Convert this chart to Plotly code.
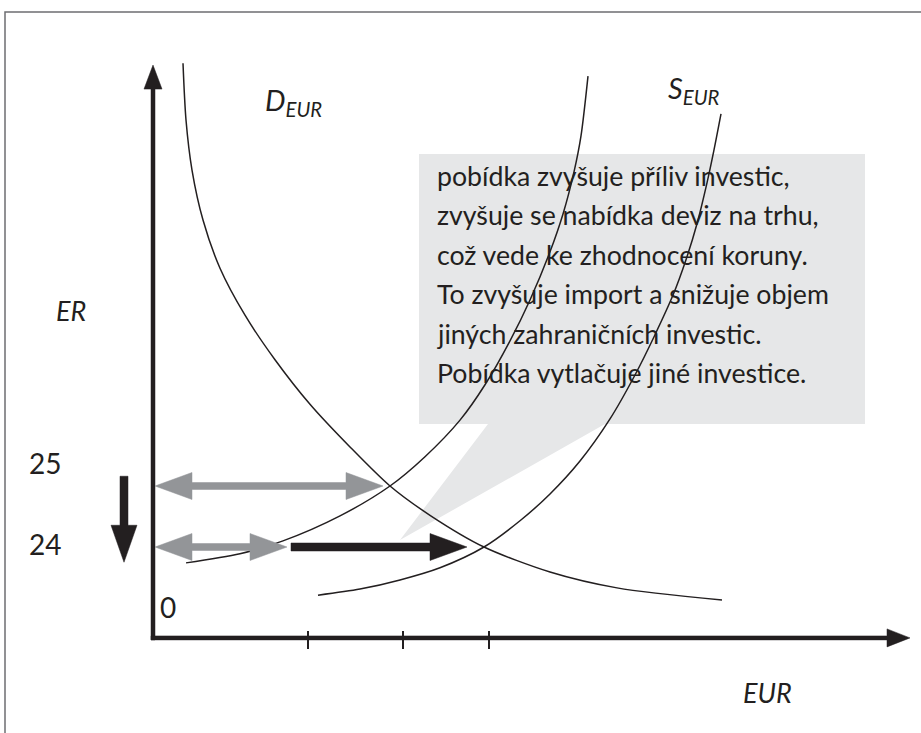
import plotly.graph_objects as go

W, H = 921, 733

# ---------------- data (EUR quantity in arbitrary units, ER in CZK/EUR) ----------------
demand_q = [3.0, 3.3, 3.9, 5.0, 6.7, 9.2, 12.2, 15.7, 19.7, 23.7, 27.7, 33.1, 39.7, 46.4, 56.9]
demand_er = [31.93, 31.00, 30.18, 29.36, 28.57, 27.80, 27.07, 26.34, 25.64, 25.00, 24.52, 24.00, 23.59, 23.33, 23.13]

supply1_q = [3.3, 8.7, 13.0, 18.7, 23.7, 27.2, 30.7, 33.2, 35.7, 37.7, 39.7, 41.0, 42.1, 42.8, 43.5]
supply1_er = [23.74, 23.89, 24.10, 24.51, 25.00, 25.48, 26.08, 26.66, 27.38, 28.05, 28.84, 29.46, 30.15, 30.74, 31.72]

supply2_q = [16.5, 20.7, 24.7, 28.7, 33.1, 36.7, 39.7, 42.7, 45.7, 48.2, 50.2, 52.0, 53.3, 54.4, 55.4, 56.1, 56.8]
supply2_er = [23.21, 23.31, 23.46, 23.66, 24.00, 24.43, 24.87, 25.41, 26.10, 26.82, 27.48, 28.13, 28.71, 29.30,
              29.97, 30.51, 31.10]

er_levels = [25, 24]
er_tick_labels = ["25", "24"]
eur_ticks = [15.5, 25.0, 33.6]

# arrows: (from q, to q) at a given ER level
gray_arrow_er25 = [0.2, 23.0]
gray_arrow_er24 = [0.2, 13.4]
black_arrow_er24 = [13.8, 31.4]
er_drop = [25.16, 23.75]      # ER change indicator (from, to)
er_drop_q = -2.9

axis_origin = [0.0, 22.51]    # q, ER at the drawn origin
axis_top_er = 31.90
axis_right_q = 75.7

callout_lines = [
    "pobídka zvyšuje příliv investic,",
    "zvyšuje se nabídka deviz na trhu,",
    "což vede ke zhodnocení koruny.",
    "To zvyšuje import a snižuje objem",
    "jiných zahraničních investic.",
    "Pobídka vytlačuje jiné investice.",
]

# ---------------- layout / style ----------------
X_RANGE = [-15.3, 76.8]
Y_RANGE = [20.951, 32.967]
KX = W / (X_RANGE[1] - X_RANGE[0])
KY = H / (Y_RANGE[1] - Y_RANGE[0])

INK = "#231f20"
GRAY = "#939598"
CALLOUT = "#e6e7e8"
FONT = "Lato"


def to_px(q, er):
    return ((q - X_RANGE[0]) * KX, (Y_RANGE[1] - er) * KY)


def to_data(px, py):
    return (px / KX + X_RANGE[0], Y_RANGE[1] - py / KY)


def arrow_polygon(q0, e0, q1, e1, shaft, head_len, head_half, start_head=False):
    x0, y0 = to_px(q0, e0)
    x1, y1 = to_px(q1, e1)
    dx, dy = x1 - x0, y1 - y0
    L = (dx * dx + dy * dy) ** 0.5
    ux, uy = dx / L, dy / L
    nx, ny = -uy, ux
    t = shaft / 2.0

    def P(b, s):
        return (b[0] + nx * s, b[1] + ny * s)

    eb = (x1 - ux * head_len, y1 - uy * head_len)
    sb = (x0 + ux * head_len, y0 + uy * head_len) if start_head else (x0, y0)
    pts = [P(sb, t), P(eb, t), P(eb, head_half), (x1, y1), P(eb, -head_half), P(eb, -t), P(sb, -t)]
    if start_head:
        pts += [P(sb, -head_half), (x0, y0), P(sb, head_half)]
    pts.append(pts[0])
    xs, ys = zip(*[to_data(*p) for p in pts])
    return list(xs), list(ys)


fig = go.Figure()


def add_poly(xs, ys, color):
    fig.add_trace(go.Scatter(x=xs, y=ys, mode="lines", fill="toself", fillcolor=color,
                             line=dict(color=color, width=0.5), hoverinfo="skip", showlegend=False))


# curves
for qs, ers in [(demand_q, demand_er), (supply1_q, supply1_er), (supply2_q, supply2_er)]:
    fig.add_trace(go.Scatter(x=qs, y=ers, mode="lines",
                             line=dict(color=INK, width=1.5, shape="spline", smoothing=0.8),
                             hoverinfo="skip", showlegend=False))

# axes (with arrowheads)
half_ax_q = 2.0 / KX
half_ax_e = 2.0 / KY
xs, ys = arrow_polygon(axis_origin[0], axis_origin[1] - half_ax_e, axis_origin[0], axis_top_er, 4, 24, 9)
add_poly(xs, ys, INK)
xs, ys = arrow_polygon(axis_origin[0] - half_ax_q, axis_origin[1], axis_right_q, axis_origin[1], 4, 23, 9)
add_poly(xs, ys, INK)

# x-axis ticks
tx, ty = [], []
for q in eur_ticks:
    tx += [q, q, None]
    ty += [axis_origin[1] + 7 / KY, axis_origin[1] - 11 / KY, None]
fig.add_trace(go.Scatter(x=tx, y=ty, mode="lines", line=dict(color=INK, width=2),
                         hoverinfo="skip", showlegend=False))

# gray double arrows
xs, ys = arrow_polygon(gray_arrow_er25[0], er_levels[0], gray_arrow_er25[1], er_levels[0], 7, 37, 13.5, True)
add_poly(xs, ys, GRAY)
xs, ys = arrow_polygon(gray_arrow_er24[0], er_levels[1], gray_arrow_er24[1], er_levels[1], 7, 37, 13.5, True)
add_poly(xs, ys, GRAY)
# black arrow (shift of supply)
xs, ys = arrow_polygon(black_arrow_er24[0], er_levels[1], black_arrow_er24[1], er_levels[1], 8, 37, 13.5)
add_poly(xs, ys, INK)
# down arrow (ER falls)
xs, ys = arrow_polygon(er_drop_q, er_drop[0], er_drop_q, er_drop[1], 8, 37, 13)
add_poly(xs, ys, INK)


# callout box with pointer (paper coordinates from pixels)
def pp(px, py):
    return f"{px / W:.5f},{1 - py / H:.5f}"


callout_path = ("M" + pp(419, 154) + " L" + pp(865, 154) + " L" + pp(865, 424) + " L" + pp(605, 424) +
                " L" + pp(400, 540) + " L" + pp(488, 424) + " L" + pp(419, 424) + " Z")
shapes = [
    dict(type="path", xref="paper", yref="paper", path=callout_path, fillcolor=CALLOUT,
         line=dict(width=0), layer="below"),
    dict(type="rect", xref="paper", yref="paper", x0=5 / W, y0=1 - 12 / H, x1=1.05, y1=-0.05,
         line=dict(color="#6d6e71", width=1.5), fillcolor="rgba(0,0,0,0)", layer="below"),
]

annotations = []


def ann(text, px, py, size, xanchor="center", yanchor="middle"):
    annotations.append(dict(text=text, x=px / W, y=1 - py / H, xref="paper", yref="paper",
                            showarrow=False, xanchor=xanchor, yanchor=yanchor,
                            font=dict(family=FONT, size=size, color=INK)))


for i, line in enumerate(callout_lines):
    ann(line, 435, 176 + 39.4 * i, 26.7, xanchor="left")

ann("<i>ER</i>", 71, 310, 27)
ann("<i>EUR</i>", 767, 692, 27)
ann("<i>D<sub>EUR</sub></i>", 263, 102, 29, xanchor="left")
ann("<i>S<sub>EUR</sub></i>", 666, 90, 29, xanchor="left")
y25 = to_px(0, er_levels[0])[1]
y24 = to_px(0, er_levels[1])[1]
ann(er_tick_labels[0], 45, y25 - 23, 28)
ann(er_tick_labels[1], 45, y24 - 3, 28)
ann("0", 168, 607, 28)

fig.update_layout(
    width=W, height=H, margin=dict(l=0, r=0, t=0, b=0),
    paper_bgcolor="white", plot_bgcolor="white",
    xaxis=dict(range=X_RANGE, visible=False, fixedrange=True),
    yaxis=dict(range=Y_RANGE, visible=False, fixedrange=True),
    shapes=shapes, annotations=annotations, showlegend=False,
)

fig.write_html("out.html", config={"displayModeBar": False},
               post_script="document.body.style.margin='0';")
